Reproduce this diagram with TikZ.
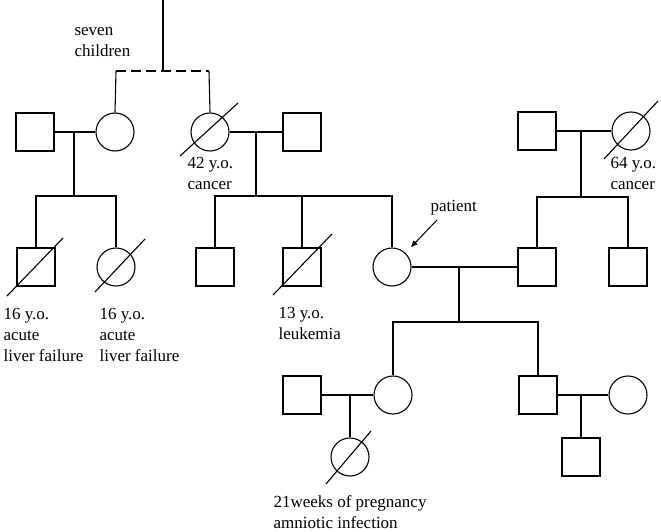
\documentclass[tikz,border=0pt]{standalone}
\usepackage{fontspec}
\setmainfont{Liberation Serif}
\usetikzlibrary{arrows.meta,calc}
\begin{document}
\begin{tikzpicture}[x=1pt,y=-1pt,line width=1.1pt,
  male/.style={draw,rectangle,minimum size=38pt,inner sep=0pt},
  female/.style={draw,circle,minimum size=38pt,inner sep=0pt},
  lbl/.style={anchor=north west,inner sep=0pt,align=left,font=\fontsize{17}{21}\selectfont},
  slash/.style={line width=1.1pt}]
\useasboundingbox (0,0) rectangle (661,532);
% generation II
\node[male] (m1) at (35,132) {};
\node[female] (f1) at (115,132) {};
\node[female] (f2) at (210,132) {};
\node[male] (m2) at (302,132) {};
\node[male] (m3) at (537,131) {};
\node[female] (f3) at (631,131) {};
% generation III
\node[male] (c1) at (36,267) {};
\node[female] (c2) at (116,267) {};
\node[male] (c3) at (215,267) {};
\node[male] (c4) at (302,267) {};
\node[female] (pat) at (392,267) {};
\node[male] (h) at (537,267) {};
\node[male] (c5) at (628,267) {};
% generation IV
\node[male] (sp1) at (302,395) {};
\node[female] (d1) at (393,395) {};
\node[male] (s1) at (538,395) {};
\node[female] (sp2) at (628,395) {};
% generation V
\node[female] (g1) at (350,457) {};
\node[male] (g2) at (581,457) {};
% coordinates
\coordinate (top) at (163,0);
\coordinate (sib0) at (163,71);
\coordinate (sA) at (116,71);
\coordinate (sB) at (209,71);
\coordinate (mm1) at (74,132);
\coordinate (sl1) at (74,196);
\coordinate (mm2) at (256,132);
\coordinate (sl2) at (256,196);
\coordinate (mm3) at (581,131);
\coordinate (sl3) at (581,197);
\coordinate (mm4) at (459,267);
\coordinate (sl4) at (459,322);
\coordinate (pa) at (437,220);
% top
\draw (top) -- (sib0);
\draw (f1.north) -- (sA);
\draw[dash pattern=on 10pt off 5pt] (sA) -- (sB);
\draw (sB) -- (f2.north);
% family 1
\draw (m1.east) -- (f1.west);
\draw (mm1) -- (sl1);
\draw (c1.north) |- (c2.north |- sl1) -- (c2.north);
% family 2
\draw (f2.east) -- (m2.west);
\draw (mm2) -- (sl2);
\draw (c3.north) |- (pat.north |- sl2) -- (pat.north);
\draw (c4.north) -- (c4.north |- sl2);
% family 3
\draw (m3.east) -- (f3.west);
\draw (mm3) -- (sl3);
\draw (h.north) |- (c5.north |- sl3) -- (c5.north);
% patient family
\draw (pat.east) -- (h.west);
\draw (mm4) -- (sl4);
\draw (d1.north) |- (s1.north |- sl4) -- (s1.north);
\draw (sp1.east) -- (d1.west);
\draw (g1.north |- d1.west) -- (g1.north);
\draw (s1.east) -- (sp2.west);
\draw (g2.north |- s1.east) -- (g2.north);
% arrow
\draw[-{Latex[length=7pt,width=6pt]},line width=1pt,shorten >=27pt] (pa) -- (pat.center);
% deceased slashes
\draw[slash] ($(f2.center)+(-30,24)$) -- ($(f2.center)+(28,-29)$);
\draw[slash] ($(f3.center)+(-27,28)$) -- ($(f3.center)+(27,-30)$);
\draw[slash] ($(c1.center)+(-29,29)$) -- ($(c1.center)+(27,-29)$);
\draw[slash] ($(c2.center)+(-21,25)$) -- ($(c2.center)+(29,-28)$);
\draw[slash] ($(c4.center)+(-29,28)$) -- ($(c4.center)+(30,-33)$);
\draw[slash] ($(g1.center)+(-24,27)$) -- ($(g1.center)+(21,-26)$);
% labels
\node[lbl] (t0) at (74,27) {seven\\children};
\node[lbl] (t1) at (187,157) {42 y.o.\\cancer};
\node[lbl] (t2) at (610,157) {64 y.o.\\cancer};
\node[lbl] (t3) at (430,200) {patient};
\node[lbl] (t4) at (3,308) {16 y.o.\\acute\\liver failure};
\node[lbl] (t5) at (99,308) {16 y.o.\\acute\\liver failure};
\node[lbl] (t6) at (278,307) {13 y.o.\\leukemia};
\node[lbl] (t7) at (273,495) {21weeks of pregnancy\\amniotic infection};
\end{tikzpicture}
\end{document}
